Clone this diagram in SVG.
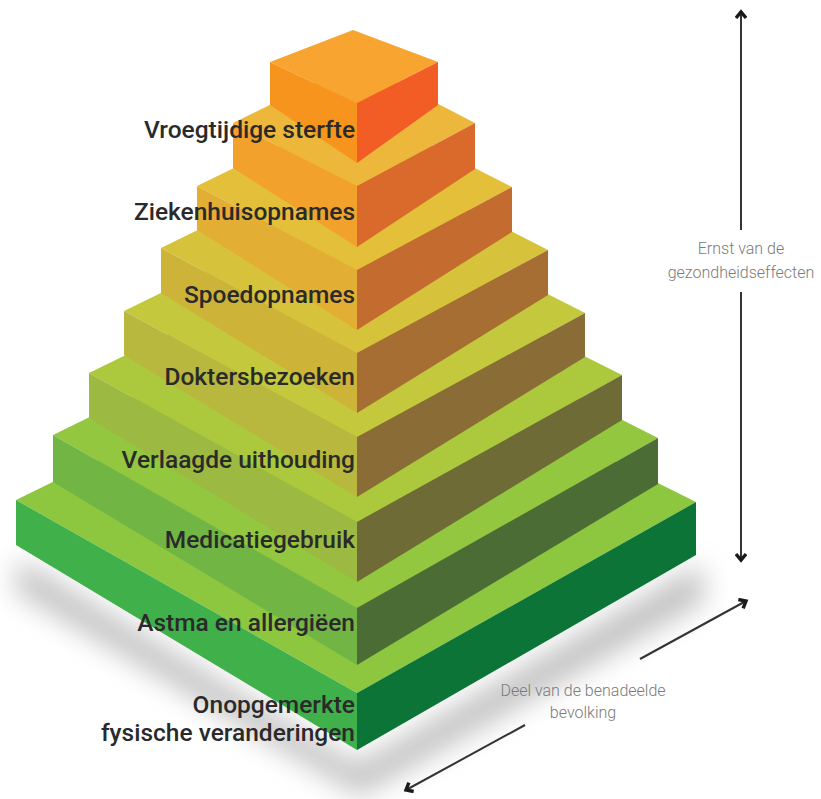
<svg xmlns="http://www.w3.org/2000/svg" width="821" height="799" viewBox="0 0 821 799">
<defs>
<filter id="blur" x="-20%" y="-20%" width="140%" height="140%"><feGaussianBlur stdDeviation="14"/></filter>
<marker id="chev" viewBox="0 0 12 12" refX="8" refY="6" markerWidth="12" markerHeight="12" markerUnits="userSpaceOnUse" orient="auto"><path d="M2,1 L8,6 L2,11" fill="none" stroke="#1a1a1a" stroke-width="3.4" stroke-linejoin="miter"/></marker>
</defs>
<style>
.lbl{font-family:Roboto,"Liberation Sans",sans-serif;font-weight:500;font-size:24.5px;fill:#2a2a2a;text-anchor:end}
.ann{font-family:Roboto,"Liberation Sans",sans-serif;font-weight:300;font-size:16px;fill:#7a7a7a;text-anchor:middle}
.ax{stroke:#333;stroke-width:2;fill:none}
</style>
<rect width="821" height="799" fill="#ffffff"/>
<path d="M20,560 L357,765 L700,565 L705,600 L360,795 L15,590 Z" fill="#8a8a8a" opacity="0.55" filter="url(#blur)"/>

<g id="layer8">
<polygon points="16,500 357,333 696,502 357,693" fill="#8DC63F"/>
<polygon points="16,500 357,693 357,750 16,545" fill="#3FB04A"/>
<polygon points="357,693 696,502 696,555 357,750" fill="#0B7436"/>
</g>
<g id="layer7">
<polygon points="53,435 357,286 658,438 357,608" fill="#92C73F"/>
<polygon points="53,435 357,608 357,665 53,482" fill="#71B544"/>
<polygon points="357,608 658,438 658,484 357,665" fill="#4C6C35"/>
</g>
<g id="layer6">
<polygon points="89,373 357,242 622,375 357,522" fill="#ACC83D"/>
<polygon points="89,373 357,522 357,582 89,418" fill="#9CBA41"/>
<polygon points="357,522 622,375 622,420 357,582" fill="#6E6B36"/>
</g>
<g id="layer5">
<polygon points="124,311 357,197 585,313 357,437" fill="#C4C83C"/>
<polygon points="124,311 357,437 357,497 124,355" fill="#B7B83D"/>
<polygon points="357,437 585,313 585,357 357,497" fill="#8A6C36"/>
</g>
<g id="layer4">
<polygon points="161,248 357,152 548,250 357,353" fill="#D6C33B"/>
<polygon points="161,248 357,353 357,413 161,293" fill="#CDB438"/>
<polygon points="357,353 548,250 548,295 357,413" fill="#A76E33"/>
</g>
<g id="layer3">
<polygon points="197,186 357,108 512,187 357,270" fill="#E4BF3A"/>
<polygon points="197,186 357,270 357,330 197,230" fill="#E2AE34"/>
<polygon points="357,270 512,187 512,232 357,330" fill="#C46C2F"/>
</g>
<g id="layer2">
<polygon points="233,123 357,62 475,123 357,186" fill="#EDB73B"/>
<polygon points="233,123 357,186 357,247 233,168" fill="#F1A12C"/>
<polygon points="357,186 475,123 475,169 357,247" fill="#DA6A2B"/>
</g>
<g id="layer1">
<polygon points="270,62 353,30 438,62 357,103" fill="#F8A431"/>
<polygon points="270,62 357,103 357,163 270,105" fill="#F7941E"/>
<polygon points="357,103 438,62 438,105 357,163" fill="#F15D25"/>
</g>

<g id="labels">
<text class="lbl" x="355" y="138">Vroegtijdige sterfte</text>
<text class="lbl" x="355" y="220">Ziekenhuisopnames</text>
<text class="lbl" x="355" y="303">Spoedopnames</text>
<text class="lbl" x="355" y="385">Doktersbezoeken</text>
<text class="lbl" x="355" y="468">Verlaagde uithouding</text>
<text class="lbl" x="355" y="548">Medicatiegebruik</text>
<text class="lbl" x="355" y="631">Astma en allergiëen</text>
<text class="lbl" x="355" y="713">Onopgemerkte</text>
<text class="lbl" x="355" y="741">fysische veranderingen</text>
</g>

<g id="connectors">
<line class="ax" x1="741" y1="230" x2="741" y2="12" marker-end="url(#chev)"/>
<line class="ax" x1="741" y1="292" x2="741" y2="560" marker-end="url(#chev)"/>
<line class="ax" x1="640" y1="659" x2="746" y2="601" marker-end="url(#chev)"/>
<line class="ax" x1="525" y1="725" x2="406" y2="790" marker-end="url(#chev)"/>
</g>
<g id="annotations">
<text class="ann" x="741" y="254">Ernst van de</text>
<text class="ann" x="741" y="278">gezondheidseffecten</text>
<text class="ann" x="583" y="696">Deel van de benadeelde</text>
<text class="ann" x="583" y="718">bevolking</text>
</g>
</svg>
